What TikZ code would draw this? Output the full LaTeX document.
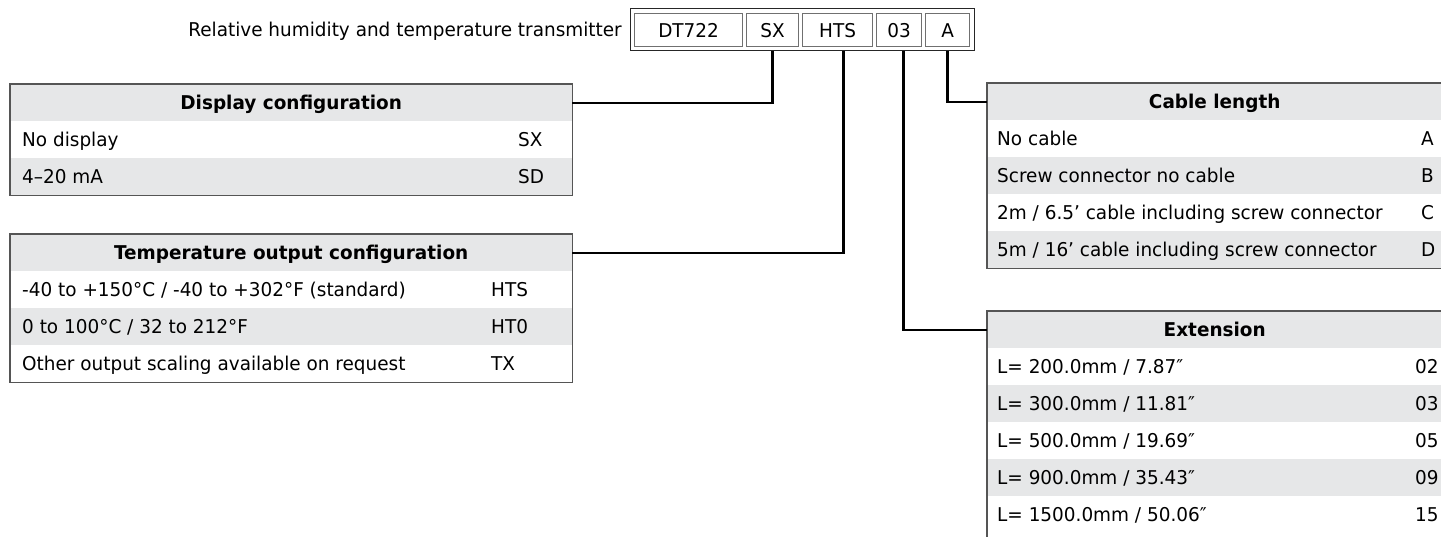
\documentclass[tikz,border=0pt]{standalone}
\usepackage{fontspec}
\setmainfont{DejaVu Sans}[FakeStretch=0.97]
\usetikzlibrary{calc}
\definecolor{rowgrey}{HTML}{E6E7E8}
\definecolor{bordergrey}{HTML}{555555}
\definecolor{codegrey}{HTML}{707070}
\newcommand\tfs{\fontsize{19pt}{22pt}\selectfont}
\tikzset{
  rowfill/.style={fill=rowgrey, draw=none, inner sep=0pt, minimum height=37pt, anchor=north west},
  rowwhite/.style={fill=white, draw=none, inner sep=0pt, minimum height=37pt, anchor=north west},
  txt/.style={font=\tfs, inner sep=0pt, anchor=west, text height=14pt, text depth=0pt},
  hdrtxt/.style={font=\tfs\bfseries, inner sep=0pt, text height=14pt, text depth=0pt},
  tborder/.style={draw=bordergrey, line width=1.3pt},
  conn/.style={draw=black, line width=2.4pt},
  codebox/.style={draw=codegrey, line width=1.2pt, minimum height=33pt, inner sep=0pt, font=\tfs, anchor=north west, text height=14pt, text depth=0pt}
}
\begin{document}
\begin{tikzpicture}[x=1pt,y=-1pt]
\useasboundingbox (0,0) rectangle (1441,536);

% ---- code boxes
\node[draw=black!85, line width=1pt, minimum width=344pt, minimum height=42pt, anchor=north west, inner sep=0pt] (code) at (630,8) {};
\node[codebox, minimum width=108pt] (dt) at (634,13) {DT722};
\node[codebox, minimum width=52pt] (sx) at (746,13) {SX};
\node[codebox, minimum width=70pt] (hts) at (802,13) {HTS};
\node[codebox, minimum width=45pt] (c03) at (876,13) {03};
\node[codebox, minimum width=44pt] (ca) at (925,13) {A};
\node[txt, anchor=east] (title) at (622,29) {Relative humidity and temperature transmitter};

% ---- Display configuration
\node[rowfill, minimum width=562pt] (dh) at (10,84) {};
\node[rowwhite, minimum width=562pt] (d1) at (10,121) {};
\node[rowfill, minimum width=562pt] (d2) at (10,158) {};
\draw[tborder] (dh.north west) rectangle (d2.south east);
\node[hdrtxt] (dht) at (dh.center) {Display configuration};
\node[txt] (d1a) at (22,139.5) {No display};
\node[txt] (d1b) at (518,139.5) {SX};
\node[txt] (d2a) at (22,176.5) {4–20 mA};
\node[txt] (d2b) at (518,176.5) {SD};

% ---- Temperature output configuration
\node[rowfill, minimum width=562pt] (th) at (10,234) {};
\node[rowwhite, minimum width=562pt] (t1) at (10,271) {};
\node[rowfill, minimum width=562pt] (t2) at (10,308) {};
\node[rowwhite, minimum width=562pt] (t3) at (10,345) {};
\draw[tborder] (th.north west) rectangle (t3.south east);
\node[hdrtxt] (tht) at (th.center) {Temperature output configuration};
\node[txt] (t1a) at (22,289.5) {-40 to +150°C / -40 to +302°F (standard)};
\node[txt] (t1b) at (491,289.5) {HTS};
\node[txt] (t2a) at (22,326.5) {0 to 100°C / 32 to 212°F};
\node[txt] (t2b) at (491,326.5) {HT0};
\node[txt] (t3a) at (22,363.5) {Other output scaling available on request};
\node[txt] (t3b) at (491,363.5) {TX};

% ---- Cable length
\node[rowfill, minimum width=455pt] (ch) at (987,83) {};
\node[rowwhite, minimum width=455pt] (c1) at (987,120) {};
\node[rowfill, minimum width=455pt] (c2) at (987,157) {};
\node[rowwhite, minimum width=455pt] (c3) at (987,194) {};
\node[rowfill, minimum width=455pt] (c4) at (987,231) {};
\draw[tborder] (ch.north west) rectangle (c4.south east);
\node[hdrtxt] (cht) at (ch.center) {Cable length};
\node[txt] (c1a) at (997,138.5) {No cable};
\node[txt] (c1b) at (1421,138.5) {A};
\node[txt] (c2a) at (997,175.5) {Screw connector no cable};
\node[txt] (c2b) at (1421,175.5) {B};
\node[txt] (c3a) at (997,212.5) {2m / 6.5’ cable including screw connector};
\node[txt] (c3b) at (1421,212.5) {C};
\node[txt] (c4a) at (997,249.5) {5m / 16’ cable including screw connector};
\node[txt] (c4b) at (1421,249.5) {D};

% ---- Extension
\node[rowfill, minimum width=455pt] (eh) at (987,311) {};
\node[rowwhite, minimum width=455pt] (e1) at (987,348) {};
\node[rowfill, minimum width=455pt] (e2) at (987,385) {};
\node[rowwhite, minimum width=455pt] (e3) at (987,422) {};
\node[rowfill, minimum width=455pt] (e4) at (987,459) {};
\node[rowwhite, minimum width=455pt, minimum height=45pt] (e5) at (987,496) {};
\draw[tborder] (eh.north west) rectangle (e5.south east);
\node[hdrtxt] (eht) at (eh.center) {Extension};
\node[txt] (e1a) at (997,366.5) {L= 200.0mm / 7.87″};
\node[txt] (e1b) at (1415,366.5) {02};
\node[txt] (e2a) at (997,403.5) {L= 300.0mm / 11.81″};
\node[txt] (e2b) at (1415,403.5) {03};
\node[txt] (e3a) at (997,440.5) {L= 500.0mm / 19.69″};
\node[txt] (e3b) at (1415,440.5) {05};
\node[txt] (e4a) at (997,477.5) {L= 900.0mm / 35.43″};
\node[txt] (e4b) at (1415,477.5) {09};
\node[txt] (e5a) at (997,514.5) {L= 1500.0mm / 50.06″};
\node[txt] (e5b) at (1415,514.5) {15};

% ---- connectors
\draw[conn] (sx.south |- code.south) |- (dh.east);
\draw[conn] ([xshift=6pt]hts.south |- code.south) |- (th.east);
\draw[conn] ([xshift=4.5pt]c03.south |- code.south) |- (eh.west);
\draw[conn] (ca.south |- code.south) |- (ch.west);
\end{tikzpicture}
\end{document}
